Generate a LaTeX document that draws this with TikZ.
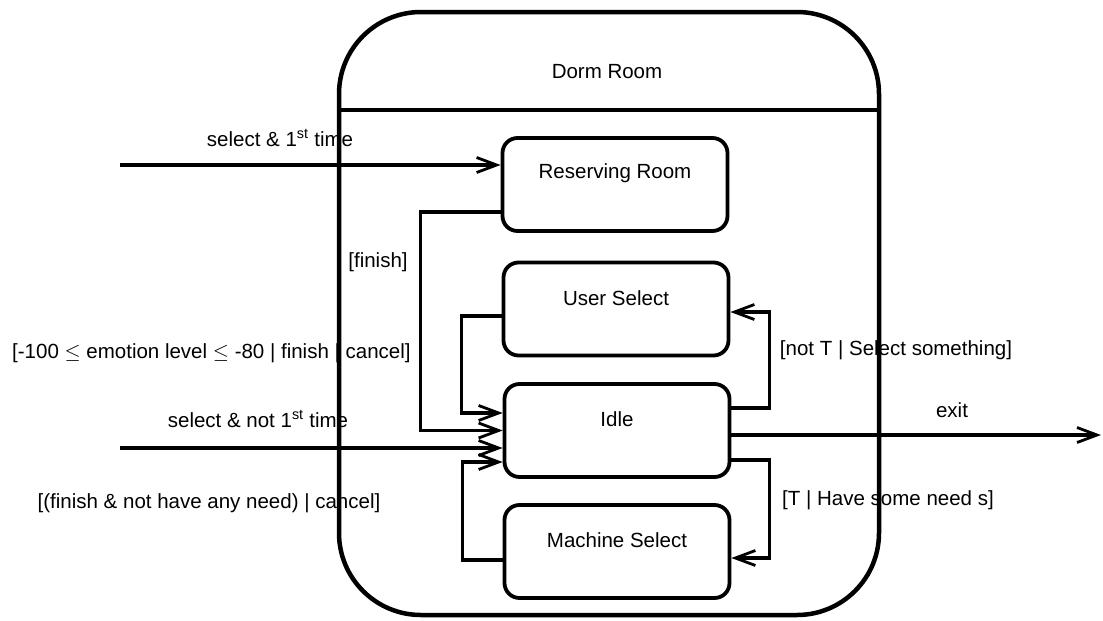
\documentclass[tikz,border=0pt]{standalone}
\usepackage{fontspec}
\setmainfont{Liberation Sans}
\usetikzlibrary{arrows.meta,calc}

\begin{document}
\begin{tikzpicture}[x=1pt,y=-1pt,
  font=\fontsize{20.5}{24}\selectfont,
  statebox/.style={draw,line width=3.8pt,rounded corners=15pt,
    minimum width=225pt,minimum height=93pt,inner sep=0pt},
  conn/.style={line width=3.4pt},
  arr/.style={conn,-{Straight Barb[length=20pt,width=15pt,line width=2.8pt]}},
  lbl/.style={inner sep=0pt}
]
\useasboundingbox (0,0) rectangle (1103,621);

% composite state
\draw[line width=4.5pt,rounded corners=82pt] (339,12) rectangle (879,615);
\draw[line width=4pt] (339,110) -- (879,110);
\node[lbl] (title) at (607,72) {Dorm Room};

% sub-states
\node[statebox,label={[yshift=11pt]center:Reserving Room}] (rr) at (615,184.5) {};
\node[statebox,label={[yshift=11pt]center:User Select}] (us) at (616,309) {};
\node[statebox,label={[yshift=11pt]center:Idle}] (idle) at (617,430.5) {};
\node[statebox,label={[yshift=11pt]center:Machine Select}] (ms) at (617,551.5) {};

% guard and event labels
\node[lbl] (l1) at (280,138) {select \& 1\textsuperscript{st} time};
\node[lbl] (l2) at (378,262) {[finish]};
\node[lbl,anchor=west] (l3) at (12,353) {[-100 $\le$ emotion level $\le$ -80 | finish | cancel]};
\node[lbl] (l4) at (258,419) {select \& not 1\textsuperscript{st} time};
\node[lbl] (l5) at (209,503) {[(finish \& not have any need) | cancel]};
\node[lbl] (l6) at (896,350) {[not T | Select something]};
\node[lbl] (l7) at (952,410) {exit};
\node[lbl] (l8) at (888,500) {[T | Have some need s]};

% external ends
\coordinate (in1) at (120,165);
\coordinate (in2) at (120,448);
\coordinate (out) at (1101,435);

% transitions
\draw[arr] (in1) -- (in1 -| rr.west);
\draw[arr] ([yshift=-27.5pt]rr.west) -- ++(-80,0) |- (idle.west);
\draw[arr] ([yshift=-7pt]us.west) -- ++(-40,0) |- ([yshift=17.5pt]idle.west);
\draw[arr] (in2) -- (in2 -| idle.west);
\draw[arr] ([yshift=-8.5pt]ms.west) -- ++(-40,0) |- ([yshift=-31.5pt]idle.west);
\draw[arr] ([yshift=22.5pt]idle.east) -- ++(38,0) |- ([yshift=-3pt]us.east);
\draw[arr] ([yshift=-4.5pt]idle.east) -- (out);
\draw[arr] ([yshift=-29.5pt]idle.east) -- ++(38,0) |- ([yshift=-6.5pt]ms.east);
\end{tikzpicture}
\end{document}
